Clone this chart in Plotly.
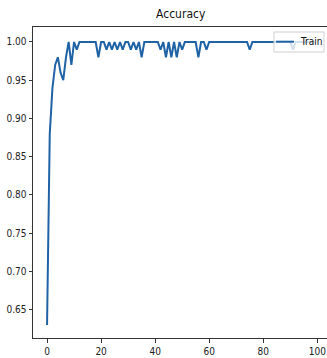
import plotly.graph_objects as go

epochs = list(range(100))
train_acc = [
    0.63, 0.88, 0.94, 0.97, 0.98, 0.96, 0.95, 0.98, 1.00, 0.97,
    1.00, 0.99, 1.00, 1.00, 1.00, 1.00, 1.00, 1.00, 1.00, 0.98,
    1.00, 1.00, 0.99, 1.00, 0.99, 1.00, 0.99, 1.00, 0.99, 1.00,
    1.00, 0.99, 1.00, 0.99, 1.00, 0.98, 1.00, 1.00, 1.00, 1.00,
    1.00, 1.00, 0.99, 1.00, 0.98, 1.00, 0.98, 1.00, 0.98, 1.00,
    0.99, 1.00, 1.00, 1.00, 1.00, 1.00, 0.98, 1.00, 1.00, 0.99,
    1.00, 1.00, 1.00, 1.00, 1.00, 1.00, 1.00, 1.00, 1.00, 1.00,
    1.00, 1.00, 1.00, 1.00, 1.00, 0.99, 1.00, 1.00, 1.00, 1.00,
    1.00, 1.00, 1.00, 1.00, 1.00, 1.00, 1.00, 1.00, 1.00, 1.00,
    1.00, 0.99, 1.00, 1.00, 1.00, 1.00, 1.00, 1.00, 1.00, 1.00,
]
x_ticks = [0, 20, 40, 60, 80, 100]
y_ticks = [0.65, 0.70, 0.75, 0.80, 0.85, 0.90, 0.95, 1.00]
series_name = "Train"
title_text = "Accuracy"

FONT = "DejaVu Sans Condensed, Liberation Sans Narrow, DejaVu Sans"
LINE = "#1f62a6"

W, H = 327, 358
L, R, T, B = 33, 0, 27, 20
PX0, PX1, PY0, PY1 = 33, 327, 27, 338  # plot area in page pixels


def px(x):
    return (x - PX0) / (PX1 - PX0)


def py(y):
    return (PY1 - y) / (PY1 - PY0)


fig = go.Figure()
fig.add_trace(go.Scatter(
    x=epochs, y=train_acc, mode="lines", name=series_name,
    line=dict(color=LINE, width=2), showlegend=False, hoverinfo="skip",
))

# legend box (semi-transparent, like matplotlib's default)
fig.add_shape(type="rect", xref="paper", yref="paper",
              x0=px(274), x1=px(324), y0=py(52), y1=py(32),
              fillcolor="rgba(255,255,255,0.8)", line=dict(color="#cfcfcf", width=1),
              layer="above")
fig.add_shape(type="line", xref="paper", yref="paper",
              x0=px(276), x1=px(294), y0=py(41.7), y1=py(41.7),
              line=dict(color=LINE, width=2), layer="above")
fig.add_annotation(text=series_name, xref="paper", yref="paper",
                   x=px(298), y=py(42), xanchor="left", yanchor="middle",
                   showarrow=False, font=dict(size=10, family=FONT, color="#111"))

fig.update_layout(
    width=W, height=H,
    margin=dict(l=L, r=R, t=T, b=B, pad=0),
    paper_bgcolor="white", plot_bgcolor="white",
    font=dict(family=FONT, size=10, color="#222"),
    showlegend=False,
    hovermode=False,
    title=dict(text=title_text, x=180.7 / W, xref="container", xanchor="center",
               y=1 - 14 / H, yref="container", yanchor="middle",
               font=dict(size=12, family=FONT, color="#111")),
    xaxis=dict(range=[-5.2, 103.6], tickvals=x_ticks, showgrid=False, zeroline=False,
               showline=True, linecolor="#333", linewidth=1, mirror=True,
               ticks="outside", ticklen=3.5, tickcolor="#333", tickwidth=1,
               tickfont=dict(size=10, family=FONT, color="#222")),
    yaxis=dict(range=[0.613, 1.0196], tickvals=y_ticks, tickformat=".2f", showgrid=False,
               zeroline=False, showline=True, linecolor="#333", linewidth=1, mirror=False,
               ticks="outside", ticklen=3.5, tickcolor="#333", tickwidth=1,
               tickfont=dict(size=10, family=FONT, color="#222")),
)

fig.write_html("out.html", config={"displayModeBar": False, "staticPlot": True},
               post_script="document.body.style.margin='0';document.body.style.overflow='hidden';")
